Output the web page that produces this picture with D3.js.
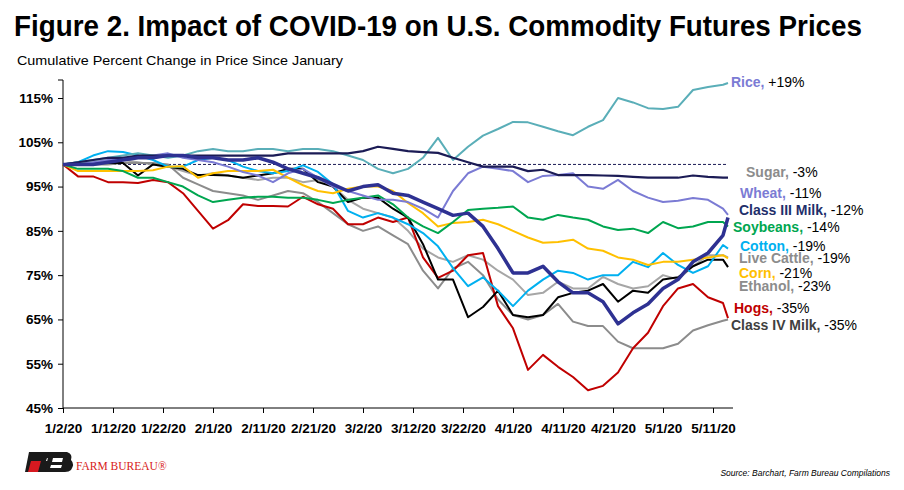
<!DOCTYPE html>
<html><head><meta charset="utf-8">
<script src="https://cdn.jsdelivr.net/npm/d3@7"></script>
<style>body{margin:0;background:#fff}svg{display:block}</style>
</head><body><div id="chart"></div>
<script>
// days since 1/2/20
const days = [0,3,6,9,12,15,18,21,24,27,30,33,36,39,42,45,48,51,54,57,60,63,66,69,72,75,78,81,84,87,90,93,96,99,102,105,108,111,114,117,120,123,126,129,132,133];
const xTicks = ["1/2/20","1/12/20","1/22/20","2/1/20","2/11/20","2/21/20","3/2/20","3/12/20","3/22/20","4/1/20","4/11/20","4/21/20","5/1/20","5/11/20"];
const yTicks = [45,55,65,75,85,95,105,115];

const rice = [100,100.5,101,101.5,102,102.5,102,101.5,102,103,103.5,103,103,103.5,103.5,103,103.5,103.5,103,102,101,99,98,99,101.5,106,101,104,106.5,108,109.6,109.5,108.5,107.5,106.6,108.5,110,115,114,112.7,112.5,113,116.8,117.5,118,118.4];
const navy = [100,100.5,101,101.5,101.5,102,102,102,102,102,102,102,102,102,102,102.5,102.5,102.5,102.5,102.5,103,104,103.5,103,102.8,102.6,101.5,100.5,99.5,99.5,99.5,98.5,98.8,97.6,97.6,97.6,97.5,97.4,97.2,97,97,97,97.5,97.2,97,97];
const wheat = [100,100,100.5,101,101.5,101.5,102,102.5,101.5,101,100.5,99.5,98.3,97.5,96,98,99,97,95,94,93,92,92,91.5,90,88,94,98,99.5,99,98.5,96,97.4,97.6,98,95,94.5,96.5,94,92.5,91.5,91.8,92.4,92,90,88.6];
const milk3 = [100,100,100,100.5,101,101.5,101.5,102,102,101.5,101.5,101,101,101.5,100.5,99,98,97,95.5,94,95,95.4,93.5,93,91.5,90,88.5,89,86,81,75.5,75.5,77,73.5,71,71,69,64,66.5,68.5,72,74,78,80,84,88];
const soy = [100,99,99,99,98.5,97,97,96,95,93,91.5,92,92.5,92.7,92.7,92.5,92.5,92,91.3,92,92.5,93,91,88,86,84.5,87,89.7,90,90.2,90.5,88,87.5,88.6,88,87.5,86,85.2,85.5,84.5,87,85.6,86,87,87,86];
const corn = [100,98.5,98.5,98.5,98.5,98.5,98.7,99.5,99.6,97,98,98.5,98.5,98.5,98.8,97,95.3,94,93.5,94.5,95,95,94,91.3,89,86,86.8,87,87.5,86.5,85,83.5,82.3,82.5,83,81,80.5,79,78.5,77.3,78,78,78.5,79,79.5,78.8];
const cotton = [100,100.5,102,103,102.8,102,101,99.5,99.5,101,101.5,101,99.5,98.5,98,98.5,99.8,98.3,95.5,89.5,88,89,88,86.5,84.5,81.5,76.6,72.5,74.5,71.5,68,71.5,74,76,75.5,74,75,75,78,76.8,80,77.3,75.5,77,81.8,81];
const ethanol = [100,100,100.3,100.3,100.3,97.5,100,99.5,99,97.6,97.6,97.5,97,97.5,98,99,99,96,95,91.5,92.5,92.5,90,88,82,74,74,65.5,67.8,71.5,66,65.5,66,70,71,71.5,73,69,71.5,71,74,74.5,77,78.5,78.5,76.8];
const hogs = [100,97.3,97.3,96,96,95.8,96.5,96,93.5,89.5,85.5,87.4,91,90.6,90.6,90.5,92.7,91,90,86.5,86.5,88,87,88,79,74.4,76,79.5,80,68,63,53.6,57,54.3,52,49,50,53,58.5,62,68,72,73,70,68.7,65.3];
const cattle = [100,100.5,100.5,101,101,100.5,100,99.5,98.5,97.5,98,97.5,97,96.5,97,97,96,96.5,95,92,90,89,88,85,81,79,78,79.5,78.5,76,74,70.5,71,73.5,72,72,74.6,73,72,72.5,75,74,77,79.5,79.5,79];
const milk4 = [100,100,100,100,100.3,100.3,100.3,100,97,95.5,94,93.5,93,92,93,94,93.5,91.5,89,86.5,85,86,84,82,76,72,76.5,78,75,69.5,66,65,66,68.5,64.5,63.5,63.5,60,58.5,58.5,58.5,59.5,62.5,63.7,64.7,65];

const seriesList = [
  {v: cattle, c: "#a6a6a6", w: 2},
  {v: milk4, c: "#8c8c8c", w: 2},
  {v: hogs, c: "#c00000", w: 2},
  {v: ethanol, c: "#000000", w: 2},
  {v: cotton, c: "#00b0f0", w: 2},
  {v: corn, c: "#ffc000", w: 2},
  {v: soy, c: "#00a650", w: 2},
  {v: wheat, c: "#7b7bd4", w: 2},
  {v: rice, c: "#5aaeb8", w: 2},
  {v: navy, c: "#1b1b55", w: 2.2},
  {v: milk3, c: "#2e3192", w: 3.5}
];

const labels = [
  {n:"Rice,", p:" +19%", c:"#7b7bd4", x:731, y:82},
  {n:"Sugar,", p:" -3%", c:"#8c8c8c", x:746, y:172},
  {n:"Wheat,", p:" -11%", c:"#7b7bd4", x:740, y:193},
  {n:"Class III Milk,", p:" -12%", c:"#1f2f6b", x:739, y:210},
  {n:"Soybeans,", p:" -14%", c:"#00a650", x:733, y:227},
  {n:"Cotton,", p:" -19%", c:"#00b0f0", x:740, y:246},
  {n:"Live Cattle,", p:" -19%", c:"#8c8c8c", x:739, y:258},
  {n:"Corn,", p:" -21%", c:"#ffc000", x:739, y:273},
  {n:"Ethanol,", p:" -23%", c:"#8c8c8c", x:739, y:286},
  {n:"Hogs,", p:" -35%", c:"#c00000", x:734, y:308},
  {n:"Class IV Milk,", p:" -35%", c:"#404040", x:731, y:325}
];

const W = 904, H = 490;
const svg = d3.select("#chart").append("svg").attr("width", W).attr("height", H);

const x = d3.scaleLinear().domain([0, 133]).range([63, 728]);
const y = d3.scaleLinear().domain([45, 115]).range([408, 98]);

svg.append("text").attr("x", 14).attr("y", 36)
  .attr("font-family", "Liberation Sans Narrow, Liberation Sans, sans-serif")
  .attr("font-weight", "bold").attr("font-size", 29).attr("fill", "#000")
  .attr("textLength", 848).attr("lengthAdjust", "spacingAndGlyphs")
  .text("Figure 2. Impact of COVID-19 on U.S. Commodity Futures Prices");

svg.append("text").attr("x", 17).attr("y", 65)
  .attr("font-family", "Liberation Sans, sans-serif").attr("font-size", 13.5)
  .attr("textLength", 326).attr("lengthAdjust", "spacingAndGlyphs")
  .text("Cumulative Percent Change in Price Since January");

// y axis
const yAxis = d3.axisLeft(y).tickValues(yTicks).tickFormat(d => d + "%").tickSize(5);
const gy = svg.append("g").attr("transform", "translate(63,0)").call(yAxis);
gy.select(".domain").attr("d", "M-5,80H0V408");
gy.selectAll("text").attr("font-family", "Liberation Sans Narrow, Liberation Sans, sans-serif")
  .attr("font-weight", "bold").attr("font-size", 13.5).attr("x", -10);

// x axis
const tickDays = xTicks.map((t, i) => i * 10);
const xAxis = d3.axisBottom(x).tickValues(tickDays).tickFormat((d, i) => xTicks[i]).tickSize(5).tickSizeOuter(0);
const gx = svg.append("g").attr("transform", "translate(0,408)").call(xAxis);
gx.select(".domain").attr("d", "M63,0H733");
gx.selectAll("text").attr("font-family", "Liberation Sans Narrow, Liberation Sans, sans-serif")
  .attr("font-weight", "bold").attr("font-size", 13.5).attr("dy", "1.25em");

// 100% reference
svg.append("line").attr("x1", x(0)).attr("x2", x(133)).attr("y1", y(100)).attr("y2", y(100))
  .attr("stroke", "#1b1b55").attr("stroke-width", 1).attr("stroke-dasharray", "3,2");

const line = d3.line().x((d, i) => x(days[i])).y(d => y(d));
svg.selectAll("path.s").data(seriesList).enter().append("path").attr("class", "s")
  .attr("d", d => line(d.v)).attr("fill", "none")
  .attr("stroke", d => d.c).attr("stroke-width", d => d.w).attr("stroke-linejoin", "round");

const lt = svg.selectAll("text.lab").data(labels).enter().append("text").attr("class", "lab")
  .attr("x", d => d.x).attr("y", d => d.y + 5)
  .attr("font-family", "Liberation Sans, sans-serif").attr("font-size", 14);
lt.append("tspan").attr("font-weight", "bold").attr("fill", d => d.c).text(d => d.n);
lt.append("tspan").attr("fill", "#000").text(d => d.p);

// logo
const logo = svg.append("g").attr("transform", "translate(25,452)");
logo.append("path").attr("d", "M4,0H40L38,6H22L21,9H36L34,20H18L16,20H0Z").attr("fill", "#1a1a1a");
logo.append("path").attr("d", "M6,9H16L13,20H3Z").attr("fill", "#d71920");
logo.append("path").attr("d", "M24,0H42Q48,2 46,8Q50,12 46,18Q44,20 40,20H20Z").attr("fill", "#1a1a1a");
logo.append("path").attr("d", "M28,6H38L37,10H27Z M26,13H37L36,16H25Z").attr("fill", "#fff");
svg.append("text").attr("x", 76).attr("y", 470).attr("font-family", "Liberation Serif, serif")
  .attr("font-size", 11.5).attr("fill", "#d71920").text("FARM BUREAU®");

svg.append("text").attr("x", 890).attr("y", 476).attr("text-anchor", "end")
  .attr("font-family", "Liberation Sans Narrow, Liberation Sans, sans-serif")
  .attr("font-style", "italic").attr("font-size", 8.5).text("Source: Barchart, Farm Bureau Compilations");
</script></body></html>
